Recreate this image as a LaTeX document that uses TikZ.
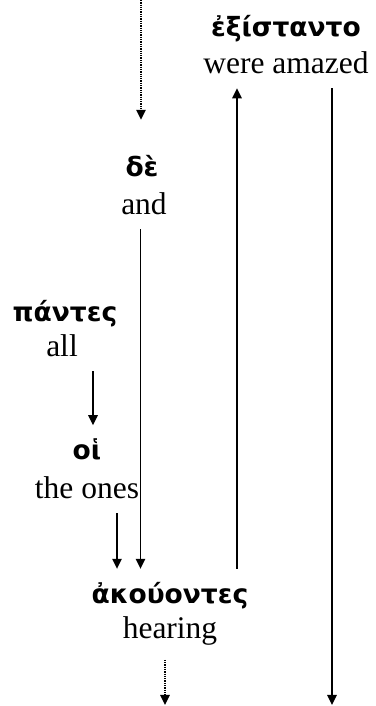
\documentclass[tikz,border=0pt]{standalone}
\usepackage{fontspec}
\setmainfont{Liberation Serif}
\newfontfamily\greekfont{DejaVu Sans}
\usetikzlibrary{arrows.meta}

\tikzset{
  gk/.style={anchor=base, inner sep=0pt, outer xsep=0pt, outer ysep=14pt,
    font=\greekfont\bfseries\fontsize{26.5}{30}\selectfont},
  en/.style={anchor=base, inner sep=0pt, outer xsep=0pt, outer ysep=14pt,
    font=\fontsize{31.5}{37}\selectfont},
  link/.style={line width=1.3pt, -{Triangle[length=10pt,width=9.5pt]}},
  hint/.style={link, densely dotted},
}

\begin{document}
\begin{tikzpicture}[x=1pt,y=1pt]
    \useasboundingbox (0,0) rectangle (375,706);

    % Words: greek above, gloss below
    \node[gk] (exist) at (286,669) {ἐξίσταντο};
    \node[en] (amazed) at (286,632) {were amazed};
    \node[gk] (de) at (142,529) {δὲ};
    \node[en] (and) at (144,491) {and};
    \node[gk] (pantes) at (65,384) {πάντες};
    \node[en] (all) at (62,349) {all};
    \node[gk] (hoi) at (87,246) {οἱ};
    \node[en] (ones) at (87,207) {the ones};
    \node[gk] (akouontes) at (170,102) {ἀκούοντες};
    \node[en] (hearing) at (170,67) {hearing};

    % Columns for the connectors
    \coordinate (top) at (141,706);
    \coordinate (bottom) at (332,1);
    \coordinate (colde) at (140.5,0);
    \coordinate (colall) at (93,0);
    \coordinate (colones) at (117,0);
    \coordinate (colup) at (237,0);
    \coordinate (colhear) at (165,0);

    % Connectors
    \draw[hint, shorten >=22pt] (top) -- (top |- de.north);
    \draw[link] (and.south -| colde) -- (akouontes.north -| colde);
    \draw[link] (all.south -| colall) -- (hoi.north -| colall);
    \draw[link] (ones.south -| colones) -- (akouontes.north -| colones);
    \draw[link] (akouontes.north -| colup) -- (amazed.south -| colup);
    \draw[link] (amazed.south -| bottom) -- (bottom);
    \draw[hint] (hearing.south -| colhear) -- (colhear |- bottom);
\end{tikzpicture}
\end{document}
